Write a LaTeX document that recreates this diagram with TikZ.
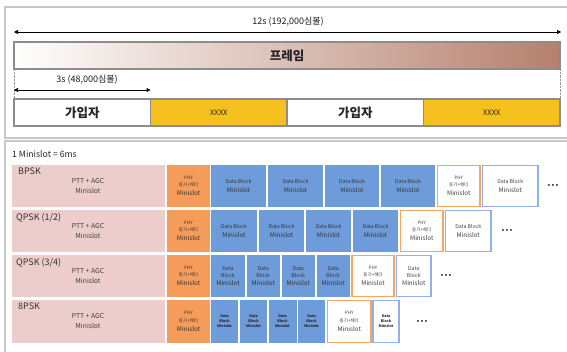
\documentclass[tikz,border=0pt]{standalone}
\usepackage{fontspec}
\setmainfont{Noto Sans CJK KR}
\usetikzlibrary{arrows.meta}
\definecolor{pinkc}{HTML}{EDCDCC}
\definecolor{orangec}{HTML}{F69C5A}
\definecolor{bluec}{HTML}{6E9BD9}
\definecolor{blueline}{HTML}{8FB2E8}
\definecolor{orangeline}{HTML}{F7A55F}
\definecolor{yellowc}{HTML}{F5C11E}
\definecolor{brownc}{HTML}{B5806E}
\newcommand\bx[7]{\node[#2, anchor=north west, inner sep=0pt, outer sep=0pt, minimum width={(#4-#3)*1pt}, minimum height={#6*1pt}] (#1) at (#3,#5) {#7};}
\newcommand\fsz[1]{\fontsize{#1}{#1}\selectfont}
\newcommand\dbtext{{\fsz{5.2}Data Block}\\[2.6pt]{\fsz{6.3}Minislot}}
\newcommand\dbtextn{{\fsz{5.2}Data}\\[0.8pt]{\fsz{5.2}Block}\\[2.4pt]{\fsz{6.3}Minislot}}
\newcommand\dbtiny{{\fsz{3.6}\bfseries Data}\\[1.4pt]{\fsz{3.6}\bfseries Block}\\[1.4pt]{\fsz{3.6}\bfseries Minislot}}
\newcommand\phytext{{\fsz{4.5}PHY}\\[1.4pt]{\fsz{4.5}동기+헤더}\\[3pt]{\fsz{6.3}Minislot}}
\newcommand\ptttext{{\fsz{6.8}PTT + AGC}\\[3.5pt]{\fsz{6.8}Minislot}}
\begin{document}
\begin{tikzpicture}[x=1pt,y=-1pt,
  panel/.style={draw=black!22, line width=1.3pt},
  seg/.style={draw=black!45, line width=1.3pt, font=\fsz{12.5}\bfseries, text=black!85},
  dim/.style={draw=black, line width=0.6pt, {Triangle[length=4pt,width=4pt]}-{Triangle[length=4pt,width=4pt]}},
  lbl/.style={inner sep=0pt, font=\fsz{9}, text=black!90},
  pinkbox/.style={fill=pinkc, align=center, text=black!75},
  orbox/.style={fill=orangec, align=center, text=black!80, font=\fsz{6}},
  bluebox/.style={fill=bluec, align=center, text=black!80, font=\fsz{6}},
  phywhite/.style={fill=white, draw=orangeline, line width=1.2pt, align=center, text=black!75, font=\fsz{6}},
  datawhite/.style={fill=white, draw=blueline, line width=1.2pt, align=center, text=black!75, font=\fsz{6}},
  tinytxt/.style={text=black!85, font=\fsz{3.6}},
  pttlbl/.style={align=center, inner sep=0pt, text=black!75, font=\fsz{6.8}},
  dots/.style={inner sep=0pt, font=\fsz{7}},
  modlbl/.style={anchor=north west, inner sep=0pt, font=\fsz{9}, text=black!80}
]
\useasboundingbox (0,0) rectangle (567,351);
% panels
\draw[panel] (5,7) rectangle (580,138);
\draw[panel] (5,141) rectangle (580,365);
% top part
\coordinate (a12l) at (14,32);
\coordinate (a12r) at (561,32);
\draw[dim] (a12l) -- (a12r);
\node[lbl] (l12) at (288,22) {12s (192,000심볼)};
\node[draw=black!45, line width=1.3pt, left color=white, right color=brownc, anchor=north west, inner sep=0pt, outer sep=0pt, minimum width=546pt, minimum height=27pt, font=\fsz{12.5}\bfseries, text=black!85] (frame) at (14,42) {프레임};
\bx{s1}{seg, fill=white}{14}{150.5}{99}{27}{가입자}
\bx{s2}{seg, fill=yellowc, font=\fsz{7.5}}{150.5}{287}{99}{27}{XXXX}
\bx{s3}{seg, fill=white}{287}{423.5}{99}{27}{가입자}
\bx{s4}{seg, fill=yellowc, font=\fsz{7.5}}{423.5}{560}{99}{27}{XXXX}
\draw[black!40, densely dotted] (frame.south west) -- (s1.north west);
\draw[black!40, densely dotted] (frame.south east) -- (s4.north east);
\coordinate (a3l) at (14,90);
\coordinate (a3r) at (150.5,90);
\draw[dim] (a3l) -- (a3r);
\node[lbl] (l3) at (87,80) {3s (48,000심볼)};
% bottom part
\node[anchor=west, inner sep=0pt, font=\fsz{8.7}, text=black!85] (ms) at (12,154) {1 Minislot = 6ms};
% BPSK
\bx{p1}{pinkbox}{12}{165}{165}{42}{}
\node[modlbl] (m1) at (18,168) {BPSK};
\node[pttlbl] (t1) at (88,186) {\ptttext};
\bx{o1}{orbox}{167}{210}{165}{42}{\phytext}
\bx{b11}{bluebox}{211}{266}{165}{42}{\dbtext}
\bx{b12}{bluebox}{268}{323}{165}{42}{\dbtext}
\bx{b13}{bluebox}{325}{379}{165}{42}{\dbtext}
\bx{b14}{bluebox}{381}{435}{165}{42}{\dbtext}
\bx{w11}{phywhite}{437.5}{480}{165.5}{41}{\phytext}
\bx{w12}{datawhite}{482.5}{538}{165.5}{41}{\dbtext}
\node[dots] (d1) at (553,186) {\textbullet\ \textbullet\ \textbullet};
% QPSK 1/2
\bx{p2}{pinkbox}{12}{165}{210}{42}{}
\node[modlbl] (m2) at (16,213) {QPSK (1/2)};
\node[pttlbl] (t2) at (88,231) {\ptttext};
\bx{o2}{orbox}{167}{210}{210}{42}{\phytext}
\bx{b21}{bluebox}{211}{257}{210}{42}{\dbtext}
\bx{b22}{bluebox}{259}{304}{210}{42}{\dbtext}
\bx{b23}{bluebox}{306}{351}{210}{42}{\dbtext}
\bx{b24}{bluebox}{353}{398}{210}{42}{\dbtext}
\bx{w21}{phywhite}{400.5}{443}{210.5}{41}{\phytext}
\bx{w22}{datawhite}{445.5}{491}{210.5}{41}{\dbtext}
\node[dots] (d2) at (507,231) {\textbullet\ \textbullet\ \textbullet};
% QPSK 3/4
\bx{p3}{pinkbox}{12}{165}{255}{42}{}
\node[modlbl] (m3) at (16,258) {QPSK (3/4)};
\node[pttlbl] (t3) at (88,276) {\ptttext};
\bx{o3}{orbox}{167}{210}{255}{42}{\phytext}
\bx{b31}{bluebox}{211}{245}{255}{42}{\dbtextn}
\bx{b32}{bluebox}{246.5}{280}{255}{42}{\dbtextn}
\bx{b33}{bluebox}{281.5}{315}{255}{42}{\dbtextn}
\bx{b34}{bluebox}{316.5}{350}{255}{42}{\dbtextn}
\bx{w31}{phywhite}{352}{394}{255.5}{41}{\phytext}
\bx{w32}{datawhite}{396.5}{431}{255.5}{41}{\dbtextn}
\node[dots] (d3) at (446,276) {\textbullet\ \textbullet\ \textbullet};
% 8PSK
\bx{p4}{pinkbox}{12}{165}{300}{43}{}
\node[modlbl] (m4) at (18,303) {8PSK};
\node[pttlbl] (t4) at (88,321) {\ptttext};
\bx{o4}{orbox}{167}{210}{300}{43}{\phytext}
\bx{b41}{bluebox, tinytxt}{211}{238}{300}{43}{\dbtiny}
\bx{b42}{bluebox, tinytxt}{240}{267}{300}{43}{\dbtiny}
\bx{b43}{bluebox, tinytxt}{268.5}{296.5}{300}{43}{\dbtiny}
\bx{b44}{bluebox, tinytxt}{298}{325}{300}{43}{\dbtiny}
\bx{w41}{phywhite}{327.5}{371}{300.5}{42}{\phytext}
\bx{w42}{datawhite, tinytxt}{373}{399}{300.5}{42}{\dbtiny}
\node[dots] (d4) at (422,322) {\textbullet\ \textbullet\ \textbullet};
\end{tikzpicture}
\end{document}
